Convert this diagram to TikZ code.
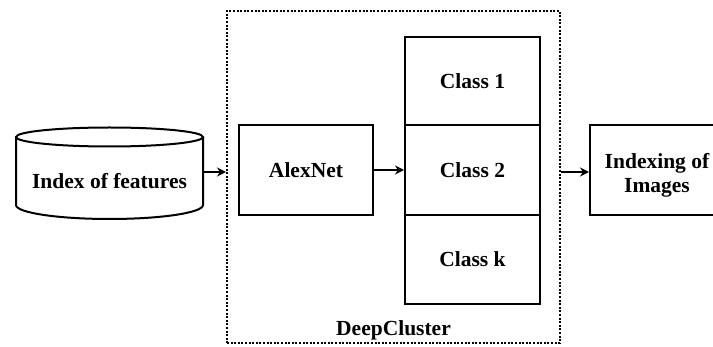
\documentclass[tikz,border=0pt]{standalone}
\usepackage{fontspec}
\setmainfont{Liberation Serif}
\usetikzlibrary{arrows.meta}
\begin{document}
\begin{tikzpicture}[x=1pt,y=-1pt,
  box/.style={draw,line width=2pt,inner sep=0pt,font=\fontsize{21.5}{24}\selectfont\bfseries},
  lbl/.style={inner sep=0pt,font=\fontsize{21.5}{24}\selectfont\bfseries,align=center},
  arr/.style={line width=2pt,-{Stealth[length=9pt,width=9pt,inset=3pt]}},
  dotbox/.style={draw,line width=2pt,dash pattern=on 2pt off 1.6pt,inner sep=0pt}]
\useasboundingbox (0,0) rectangle (713,347);
\clip (0,0) rectangle (713,347);
% cylinder
\draw[line width=2pt,fill=white] (16,137) -- (16,205) arc[start angle=180,end angle=0,x radius=93.5,y radius=14] -- (203,137);
\draw[line width=2pt] (109.5,137) ellipse[x radius=93.5,y radius=9.5];
\node[lbl,minimum width=187pt] (feat) at (109.5,181) {Index of features};
\coordinate (c1) at (203,172);
% DeepCluster box
\node[dotbox,minimum width=333pt,minimum height=332pt] (dc) at (393.5,177) {};
\node[lbl] (dclbl) at (393.5,330) {DeepCluster};
% AlexNet
\node[box,minimum width=134pt,minimum height=90pt] (alex) at (306,170) {AlexNet};
% classes
\node[box,minimum width=135pt,minimum height=88pt] (cl1) at (472.5,81) {Class 1};
\node[box,minimum width=135pt,minimum height=90pt] (cl2) at (472.5,170) {Class 2};
\node[box,minimum width=135pt,minimum height=89pt] (clk) at (472.5,259.5) {Class k};
% indexing
\node[box,minimum width=130pt,minimum height=90pt] (idx) at (655,170) {};
\node[lbl] (idxlbl) at (657,175) {Indexing of\\Images};
% arrows
\draw[arr] (c1) -- (c1 -| dc.west);
\draw[arr] (alex.east) -- (cl2.west);
\draw[arr] (dc.east |- 0,172) -- (idx.west |- 0,172);
\end{tikzpicture}
\end{document}
